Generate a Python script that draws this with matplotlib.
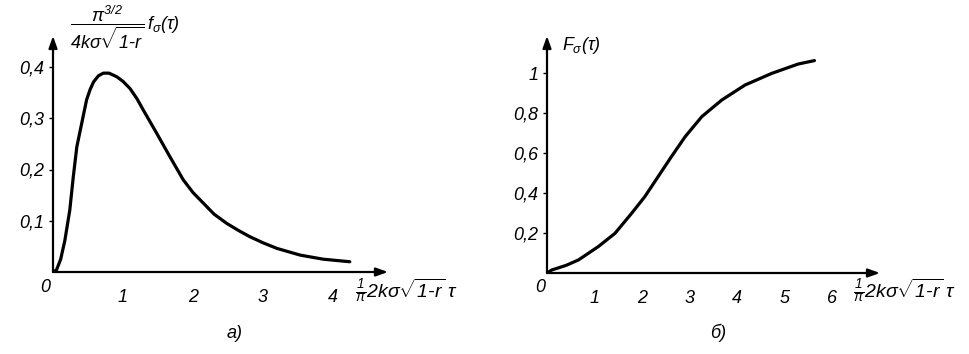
import matplotlib
matplotlib.use('Agg')
import matplotlib.pyplot as plt

W, H = 970, 354
plt.rcParams['font.family'] = ['Liberation Sans', 'DejaVu Sans']
plt.rcParams['font.style'] = 'italic'
plt.rcParams['mathtext.fontset'] = 'custom'
plt.rcParams['mathtext.rm'] = 'Liberation Sans:italic'
plt.rcParams['mathtext.it'] = 'Liberation Sans:italic'
plt.rcParams['mathtext.bf'] = 'Liberation Sans:bold:italic'
plt.rcParams['mathtext.sf'] = 'Liberation Sans:italic'

# ---- data ----
pdf_x = [0, 0.05, 0.11, 0.17, 0.24, 0.29, 0.34, 0.41, 0.48, 0.53, 0.58, 0.65,
         0.72, 0.8, 0.91, 1.0, 1.1, 1.2, 1.29, 1.48, 1.67, 1.86, 2.0, 2.15,
         2.3, 2.48, 2.65, 2.81, 3.0, 3.2, 3.53, 3.86, 4.24]
pdf_y = [0, 0.004, 0.025, 0.062, 0.121, 0.186, 0.244, 0.29, 0.336, 0.356,
         0.371, 0.383, 0.388, 0.388, 0.381, 0.372, 0.358, 0.338, 0.316, 0.271,
         0.225, 0.18, 0.155, 0.134, 0.113, 0.095, 0.081, 0.069, 0.057, 0.046,
         0.033, 0.025, 0.02]
pdf_xticks = [1, 2, 3, 4]
pdf_yticks = [0.1, 0.2, 0.3, 0.4]
pdf_yticklabels = ['0,1', '0,2', '0,3', '0,4']

cdf_x = [0, 0.1, 0.4, 0.66, 1.08, 1.43, 1.78, 2.06, 2.34, 2.62, 2.91, 3.26,
         3.68, 4.17, 4.73, 5.29, 5.63]
cdf_y = [0, 0.015, 0.038, 0.065, 0.132, 0.198, 0.298, 0.382, 0.482, 0.582,
         0.682, 0.782, 0.865, 0.94, 0.998, 1.045, 1.062]
cdf_xticks = [1, 2, 3, 4, 5, 6]
cdf_yticks = [0.2, 0.4, 0.6, 0.8, 1.0]
cdf_yticklabels = ['0,2', '0,4', '0,6', '0,8', '1']

fig = plt.figure(figsize=(W / 100, H / 100), dpi=100)
fs = 13
xlab = r'$\frac{1}{\pi}2k\sigma\sqrt{1\text{-}r}\;\tau$'


def make_axes(x0, y0, x1, y1, xscale, yscale):
    ax = fig.add_axes([x0 / W, 1 - y0 / H, (x1 - x0) / W, (y0 - y1) / H])
    ax.set_xlim(0, (x1 - x0) / xscale)
    ax.set_ylim(0, (y0 - y1) / yscale)
    for s in ax.spines.values():
        s.set_visible(False)
    ax.patch.set_visible(False)
    return ax


def draw_axes(ax, xend, yend):
    style = dict(arrowstyle='-|>,head_length=0.7,head_width=0.25',
                 lw=1.6, color='black', shrinkA=0, shrinkB=0)
    ax.annotate('', xy=(xend, 0), xytext=(0, 0), arrowprops=style,
                annotation_clip=False)
    ax.annotate('', xy=(0, yend), xytext=(0, 0), arrowprops=style,
                annotation_clip=False)


def px(x, y):
    return x / W, 1 - y / H


# ---- left panel ----
axL = make_axes(53, 272, 392, 34, 70.0, 512.5)
draw_axes(axL, (388 - 53) / 70.0, (272 - 36) / 512.5)
axL.plot(pdf_x, pdf_y, color='black', lw=2.3, solid_capstyle='round',
         solid_joinstyle='round')
axL.set_xticks(pdf_xticks)
axL.set_xticklabels([str(t) for t in pdf_xticks], fontsize=fs)
axL.set_yticks(pdf_yticks)
axL.set_yticklabels(pdf_yticklabels, fontsize=fs)
axL.tick_params(axis='x', length=0, pad=12)
axL.tick_params(axis='y', length=3, width=1, pad=3, direction='out')
fig.text(*px(45, 287), '0', fontsize=fs, ha='center', va='center')
fig.text(*px(70, 27),
         r'$\dfrac{\pi^{3/2}}{4k\sigma\sqrt{1\text{-}r}}\,f_\sigma(\tau)$',
         fontsize=fs, ha='left', va='center')
fig.text(*px(355, 290), xlab, fontsize=14, ha='left', va='center')
fig.text(*px(235, 333), 'а)', fontsize=fs, ha='center', va='center')

# ---- right panel ----
axR = make_axes(547, 273, 884, 34, 47.5, 200.0)
draw_axes(axR, (880 - 547) / 47.5, (273 - 36) / 200.0)
axR.plot(cdf_x, cdf_y, color='black', lw=2.3, solid_capstyle='round',
         solid_joinstyle='round')
axR.set_xticks(cdf_xticks)
axR.set_xticklabels([str(t) for t in cdf_xticks], fontsize=fs)
axR.set_yticks(cdf_yticks)
axR.set_yticklabels(cdf_yticklabels, fontsize=fs)
axR.tick_params(axis='x', length=0, pad=12)
axR.tick_params(axis='y', length=3, width=1, pad=3, direction='out')
fig.text(*px(540, 287), '0', fontsize=fs, ha='center', va='center')
fig.text(*px(562, 45), r'$F_\sigma(\tau)$', fontsize=fs, ha='left', va='center')
fig.text(*px(853, 290), xlab, fontsize=14, ha='left', va='center')
fig.text(*px(718, 333), 'б)', fontsize=fs, ha='center', va='center')

fig.savefig('out.png', dpi=100)
